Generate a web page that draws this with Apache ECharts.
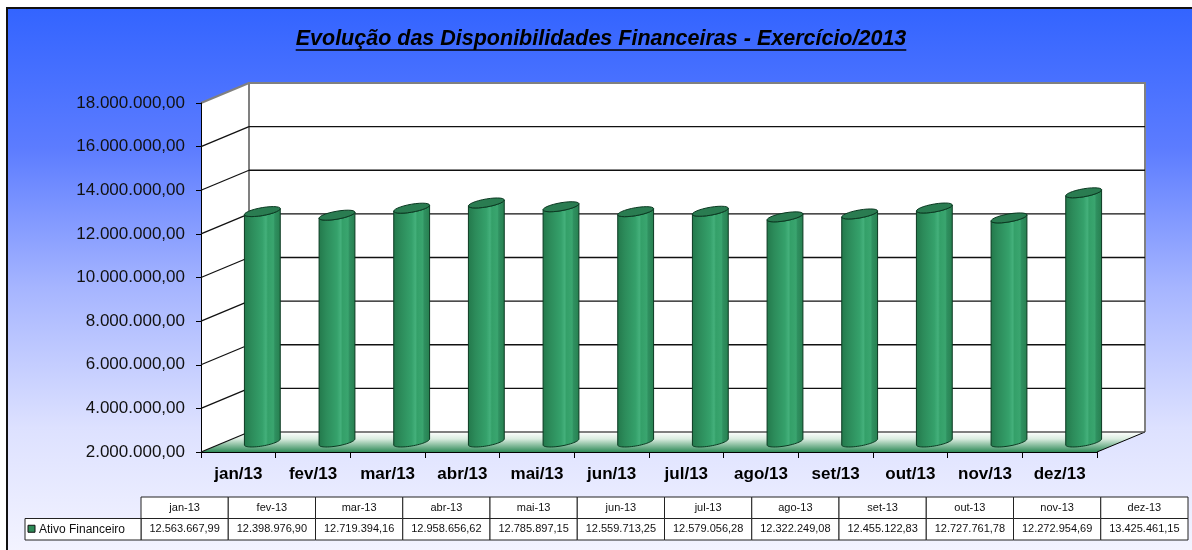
<!DOCTYPE html>
<html><head><meta charset="utf-8">
<script src="https://cdn.jsdelivr.net/npm/echarts@6/dist/echarts.min.js"></script>
<style>html,body{margin:0;padding:0;background:#fff}#c{width:1192px;height:550px}</style>
</head><body><div id="c"></div>
<script>
const titleText = 'Evolução das Disponibilidades Financeiras - Exercício/2013';
const seriesName = 'Ativo Financeiro';
const categories = ['jan/13','fev/13','mar/13','abr/13','mai/13','jun/13','jul/13','ago/13','set/13','out/13','nov/13','dez/13'];
const tableLabels = ['jan-13','fev-13','mar-13','abr-13','mai-13','jun-13','jul-13','ago-13','set-13','out-13','nov-13','dez-13'];
const values = [12563667.99, 12398976.90, 12719394.16, 12958656.62, 12785897.15, 12559713.25, 12579056.28, 12322249.08, 12455122.83, 12727761.78, 12272954.69, 13425461.15];
const yTicks = [2000000, 4000000, 6000000, 8000000, 10000000, 12000000, 14000000, 16000000, 18000000];
const yMin = 2000000, yMax = 18000000, yStep = 2000000;

function fmtBR(v){
  const p = Number(v).toFixed(2).split('.');
  p[0] = p[0].replace(/\B(?=(\d{3})+(?!\d))/g, '.');
  return p[0] + ',' + p[1];
}

const DX = 48, DY = -20;
const FF = '"Liberation Sans", Arial, sans-serif';
const G = echarts.graphic;

const chart = echarts.init(document.getElementById('c'), null, {renderer: 'canvas'});

// measure title for underline
const mctx = document.createElement('canvas').getContext('2d');
const titleFont = 'italic bold 21.5px "Liberation Sans"';
mctx.font = titleFont;
const titleW = mctx.measureText(titleText).width;
const titleCX = 601, titleCY = 39;

const option = {
  animation: false,
  backgroundColor: '#ffffff',
  graphic: [
    { type: 'rect', z: -100, shape: {x: 7, y: 8, width: 1400, height: 700},
      style: { fill: new G.LinearGradient(0,0,0,1,[
        {offset:0,color:'#3364ff'},{offset:0.2,color:'#5c7cff'},{offset:0.4,color:'#a6b5ff'},
        {offset:0.6,color:'#dde1ff'},{offset:0.8,color:'#f6f6ff'},{offset:1,color:'#f8f8ff'}]) } },
    { type: 'polyline', z: -99, shape: { points: [[7, 600], [7, 8], [1300, 8]] }, style: { stroke: '#111', lineWidth: 2, fill: null } },
    { type: 'text', z: 100, style: { text: titleText, x: titleCX, y: titleCY, font: titleFont, fill: '#000', align: 'center', verticalAlign: 'middle' } },
    { type: 'line', z: 100, shape: {x1: titleCX - titleW/2, y1: 50, x2: titleCX + titleW/2, y2: 50}, style: {stroke: '#000', lineWidth: 1.5} }
  ],
  grid: [
    { left: 201, top: 103, width: 896, height: 349 },
    { left: 141, top: 497, width: 1047, height: 43 }
  ],
  xAxis: [
    { type: 'category', gridIndex: 0, data: categories, boundaryGap: true,
      axisLine: { show: true, lineStyle: { color: '#000', width: 1 } },
      axisTick: { show: true, length: 6, lineStyle: { color: '#000' } },
      axisLabel: { fontSize: 17, fontWeight: 'bold', color: '#000', fontFamily: FF, margin: 14 },
      splitLine: { show: false } },
    { type: 'category', gridIndex: 1, data: tableLabels, show: false }
  ],
  yAxis: [
    { type: 'value', gridIndex: 0, min: yMin, max: yMax, interval: yStep,
      axisLine: { show: true, lineStyle: { color: '#000', width: 1 } },
      axisTick: { show: true, length: 5, lineStyle: { color: '#000' } },
      axisLabel: { fontSize: 17, color: '#111', fontFamily: FF, margin: 16, formatter: fmtBR },
      splitLine: { show: false } },
    { type: 'value', gridIndex: 1, min: 0, max: 2, show: false }
  ],
  series: [
    { // walls and floor
      type: 'custom', z: -1, silent: true, xAxisIndex: 0, yAxisIndex: 0,
      data: [[0, yMin]],
      renderItem: function (params, api) {
        const cs = params.coordSys;
        const x0 = cs.x, y0 = cs.y, x1 = cs.x + cs.width, y1 = cs.y + cs.height;
        return { type: 'group', children: [
          { type: 'polygon', shape: { points: [[x0,y0],[x0+DX,y0+DY],[x0+DX,y1+DY],[x0,y1]] }, style: { fill: '#fff' } },
          { type: 'rect', shape: { x: x0+DX, y: y0+DY, width: cs.width, height: cs.height }, style: { fill: '#fff' } },
          { type: 'polygon', shape: { points: [[x0,y1],[x1,y1],[x1+DX,y1+DY],[x0+DX,y1+DY]] },
            style: { fill: new G.LinearGradient(0,0,0,1,[{offset:0,color:'#ffffff'},{offset:0.35,color:'#d9ecdf'},{offset:1,color:'#2f8a58'}]) } },
          { type: 'polyline', shape: { points: [[x0+DX,y1+DY],[x0+DX,y0+DY],[x1+DX,y0+DY],[x1+DX,y1+DY]] }, style: { stroke: '#808080', lineWidth: 2, fill: null } },
          { type: 'line', shape: { x1: x0, y1: y0, x2: x0+DX, y2: y0+DY }, style: { stroke: '#808080', lineWidth: 2 } },
          { type: 'line', shape: { x1: x1, y1: y1, x2: x1+DX, y2: y1+DY }, style: { stroke: '#000', lineWidth: 1 } }
        ]};
      }
    },
    { // gridlines on side and back wall
      type: 'custom', z: 1, silent: true, xAxisIndex: 0, yAxisIndex: 0,
      data: yTicks.map(v => [0, v]),
      renderItem: function (params, api) {
        const cs = params.coordSys;
        const v = api.value(1);
        if (v >= yMax) return null;
        const y = api.coord([0, v])[1];
        const x0 = cs.x, x1 = cs.x + cs.width;
        const col = v <= yMin ? '#555' : '#111';
        return { type: 'group', children: [
          { type: 'line', shape: { x1: x0, y1: y, x2: x0+DX, y2: y+DY }, style: { stroke: '#111', lineWidth: 1.3 } },
          { type: 'line', shape: { x1: x0+DX, y1: y+DY, x2: x1+DX, y2: y+DY }, style: { stroke: col, lineWidth: 1.3 } }
        ]};
      }
    },
    { // cylinders
      type: 'custom', name: seriesName, z: 3, xAxisIndex: 0, yAxisIndex: 0,
      data: values.map((v, i) => [i, v]),
      renderItem: function (params, api) {
        const i = api.value(0), v = api.value(1);
        const top = api.coord([i, v]), base = api.coord([i, yMin]);
        const w = api.size([1, 0])[0];
        const h = w * 0.24;
        const cx = top[0] + DX/2;
        const ty = top[1] + DY/2, by = base[1] + DY/2;
        const k = 4, m = 3, N = 28;
        const ell = (cy, a0, a1) => {
          const pts = [];
          for (let j = 0; j <= N; j++) {
            const th = a0 + (a1 - a0) * j / N;
            pts.push([cx + h * Math.cos(th), cy - k * Math.sin(th) - m * Math.cos(th)]);
          }
          return pts;
        };
        const body = ell(by, Math.PI, 2*Math.PI).concat(ell(ty, 2*Math.PI, Math.PI));
        const topE = ell(ty, 0, 2*Math.PI);
        return { type: 'group', children: [
          { type: 'polygon', shape: { points: body },
            style: { fill: new G.LinearGradient(0,0,1,0,[
              {offset:0,color:'#23784b'},{offset:0.2,color:'#2c8b5a'},{offset:0.5,color:'#35a16b'},
              {offset:0.6,color:'#44b07b'},{offset:0.65,color:'#34a069'},{offset:0.8,color:'#3aa56f'},
              {offset:0.84,color:'#2f9060'},{offset:1,color:'#277f4f'}]),
              stroke: '#0b3a22', lineWidth: 1 } },
          { type: 'polygon', shape: { points: topE }, style: { fill: '#2a7c51', stroke: '#0b3a22', lineWidth: 1 } }
        ]};
      }
    },
    { // data table
      type: 'custom', z: 3, silent: true, xAxisIndex: 1, yAxisIndex: 1,
      data: values.map((v, i) => [i, v]),
      renderItem: function (params, api) {
        const cs = params.coordSys;
        const i = api.value(0), v = api.value(1);
        const cx = api.coord([i, 0])[0];
        const w = api.size([1, 0])[0];
        const rowH = cs.height / 2;
        const t = cs.y;
        const font = '11px "Liberation Sans"';
        const ch = [
          { type: 'rect', shape: { x: cx - w/2, y: t, width: w, height: rowH }, style: { fill: '#fff', stroke: '#222', lineWidth: 1 } },
          { type: 'rect', shape: { x: cx - w/2, y: t + rowH, width: w, height: rowH }, style: { fill: '#fff', stroke: '#222', lineWidth: 1 } },
          { type: 'text', style: { text: tableLabels[i], x: cx, y: t + rowH/2, font: font, fill: '#111', align: 'center', verticalAlign: 'middle' } },
          { type: 'text', style: { text: fmtBR(v), x: cx, y: t + rowH*1.5, font: font, fill: '#111', align: 'center', verticalAlign: 'middle' } }
        ];
        if (i === 0) {
          const lw = 116;
          ch.push({ type: 'rect', shape: { x: cs.x - lw, y: t + rowH, width: lw, height: rowH }, style: { fill: '#fff', stroke: '#222', lineWidth: 1 } });
          ch.push({ type: 'rect', shape: { x: cs.x - lw + 3, y: t + rowH*1.5 - 4, width: 7, height: 7 }, style: { fill: '#2e8b57', stroke: '#111', lineWidth: 1 } });
          ch.push({ type: 'text', style: { text: seriesName, x: cs.x - lw + 14, y: t + rowH*1.5, font: '12px "Liberation Sans"', fill: '#111', align: 'left', verticalAlign: 'middle' } });
        }
        return { type: 'group', children: ch };
      }
    }
  ]
};
chart.setOption(option);
</script></body></html>
